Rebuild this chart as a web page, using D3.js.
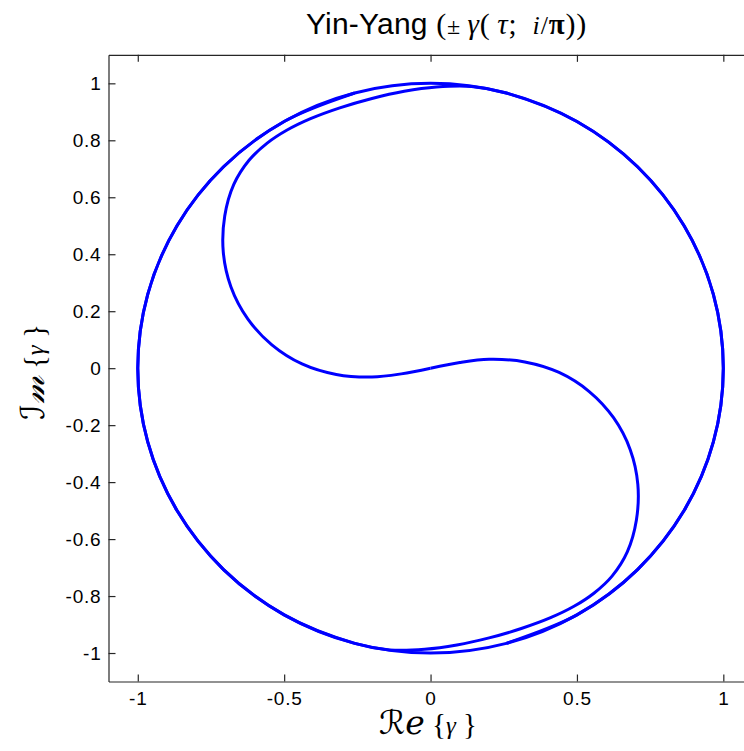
<!DOCTYPE html>
<html>
<head>
<meta charset="utf-8">
<script src="https://cdn.jsdelivr.net/npm/d3@7"></script>
<style>
  html, body { margin: 0; padding: 0; background: #fff; }
  svg { display: block; }
</style>
</head>
<body>
<svg id="chart" width="744" height="751"></svg>
<script>
// ---- data ----
// gamma(tau): starts at the origin, S-curve to the left, then wraps round the unit circle
const gammaRe = [0, -0.1, -0.2, -0.322, -0.439, -0.542, -0.625, -0.682, -0.708, -0.703, -0.672, -0.62, -0.558, -0.49, -0.41, -0.31, -0.2, -0.09, 0.02, 0.14,
  0.259, 0.5, 0.707, 0.866, 0.966, 1, 0.966, 0.866, 0.707, 0.5, 0.259, 0, -0.259, -0.5, -0.707, -0.866, -0.966, -1, -0.966, -0.866, -0.707, -0.5, -0.259];
const gammaIm = [0, -0.02, -0.031, -0.022, 0.015, 0.082, 0.174, 0.286, 0.408, 0.534, 0.645, 0.73, 0.79, 0.836, 0.876, 0.914, 0.947, 0.972, 0.987, 0.989,
  0.966, 0.866, 0.707, 0.5, 0.259, 0, -0.259, -0.5, -0.707, -0.866, -0.966, -1, -0.966, -0.866, -0.707, -0.5, -0.259, 0, 0.259, 0.5, 0.707, 0.866, 0.966];
const signs = [1, -1];             // ± gamma
const xTicks = [-1, -0.5, 0, 0.5, 1];
const xTickLabels = ["-1", "-0.5", "0", "0.5", "1"];
const yTicks = [-1, -0.8, -0.6, -0.4, -0.2, 0, 0.2, 0.4, 0.6, 0.8, 1];
const yTickLabels = ["-1", "-0.8", "-0.6", "-0.4", "-0.2", "0", "0.2", "0.4", "0.6", "0.8", "1"];
const xDomain = [-1.1, 1.1];
const yDomain = [-1.1, 1.1];

// ---- layout ----
const svg = d3.select("#chart");
const mLeft = 108.5, mRight = 752.6, mTop = 54.85, mBottom = 681.5;
const x = d3.scaleLinear(xDomain, [mLeft, mRight]);
const y = d3.scaleLinear(yDomain, [mBottom, mTop]);
const axisColor = "#262626";
const tickFont = "'Liberation Sans', Arial, sans-serif";

// curves
const pts = gammaRe.map((r, i) => [r, gammaIm[i]]);
const line = d3.line()
  .x(d => x(d[0])).y(d => y(d[1]))
  .curve(d3.curveCatmullRom.alpha(0.5));
svg.append("g").selectAll("path").data(signs).join("path")
  .attr("d", s => line(pts.map(p => [s * p[0], s * p[1]])))
  .attr("fill", "none")
  .attr("stroke", "#0000ff")
  .attr("stroke-width", 3)
  .attr("stroke-linejoin", "round");

// axes
function styleAxis(g) {
  g.select(".domain").attr("stroke", axisColor).attr("stroke-width", 1.2);
  g.selectAll(".tick line").attr("stroke", axisColor).attr("stroke-width", 1.2);
  g.selectAll(".tick text").attr("fill", "#000").attr("font-family", tickFont)
    .attr("font-size", 19).attr("letter-spacing", "0.8px");
}
svg.append("g").attr("transform", `translate(0,${mBottom})`)
  .call(d3.axisBottom(x).tickValues(xTicks).tickSize(-7).tickSizeOuter(0).tickPadding(10)
    .tickFormat((d, i) => xTickLabels[i]))
  .call(styleAxis);
svg.append("g").attr("transform", `translate(0,${mTop})`)
  .call(d3.axisTop(x).tickValues(xTicks).tickSize(-7).tickSizeOuter(0).tickFormat(""))
  .call(styleAxis);
svg.append("g").attr("transform", `translate(${mLeft},0)`)
  .call(d3.axisLeft(y).tickValues(yTicks).tickSize(-7).tickSizeOuter(0).tickPadding(7)
    .tickFormat((d, i) => yTickLabels[i]))
  .call(styleAxis);
svg.append("g").attr("transform", `translate(${mRight},0)`)
  .call(d3.axisRight(y).tickValues(yTicks).tickSize(-7).tickSizeOuter(0).tickFormat(""))
  .call(styleAxis);

// title
const title = svg.append("text").attr("x", 306).attr("y", 34)
  .attr("font-family", "'Liberation Sans', Arial, sans-serif").attr("font-size", 30).attr("fill", "#000");
title.append("tspan").text("Yin-Yang ").attr("letter-spacing", "0.2px");
const serif = "'Liberation Serif', 'Times New Roman', serif";
const tparts = [
  {t: "(", st: "normal", w: "normal", fs: 30},
  {t: "\u00b1", st: "normal", w: "normal", fs: 24},
  {t: "\u2009\u03b3", st: "italic", w: "normal", fs: 29},
  {t: "(", st: "normal", w: "normal", fs: 30},
  {t: "\u2009\u03c4", st: "italic", w: "normal", fs: 29},
  {t: ";\u2002", st: "normal", w: "normal", fs: 29},
  {t: "i", st: "italic", w: "normal", fs: 26},
  {t: "/", st: "normal", w: "normal", fs: 26},
  {t: "\u03c0", st: "normal", w: "bold", fs: 29},
  {t: "))", st: "normal", w: "normal", fs: 30}
];
tparts.forEach(p => title.append("tspan").text(p.t).attr("font-family", serif)
  .attr("font-style", p.st).attr("font-weight", p.w).attr("font-size", p.fs)
  .attr("letter-spacing", "0.8px"));

// axis labels
const scriptFont = "'DejaVu Serif', 'DejaVu Sans', serif";
const xl = svg.append("text").attr("x", 428).attr("y", 734).attr("text-anchor", "middle")
  .attr("fill", "#000").attr("font-size", 33);
xl.append("tspan").text("\u211b\u212f").attr("font-family", scriptFont).attr("font-style", "italic");
xl.append("tspan").text(" {").attr("font-family", serif).attr("font-size", 29);
xl.append("tspan").text("\u03b3").attr("font-family", serif).attr("font-style", "italic").attr("font-size", 25);
xl.append("tspan").text(" }").attr("font-family", serif).attr("font-size", 29);

const yl = svg.append("text").attr("transform", "translate(44,372) rotate(-90)")
  .attr("text-anchor", "middle").attr("fill", "#000").attr("font-size", 33);
yl.append("tspan").text("\u2110\ud835\udcc2").attr("font-family", scriptFont).attr("font-style", "italic");
yl.append("tspan").text(" {").attr("font-family", serif).attr("font-size", 29);
yl.append("tspan").text("\u03b3").attr("font-family", serif).attr("font-style", "italic").attr("font-size", 25);
yl.append("tspan").text(" }").attr("font-family", serif).attr("font-size", 29);
</script>
</body>
</html>
